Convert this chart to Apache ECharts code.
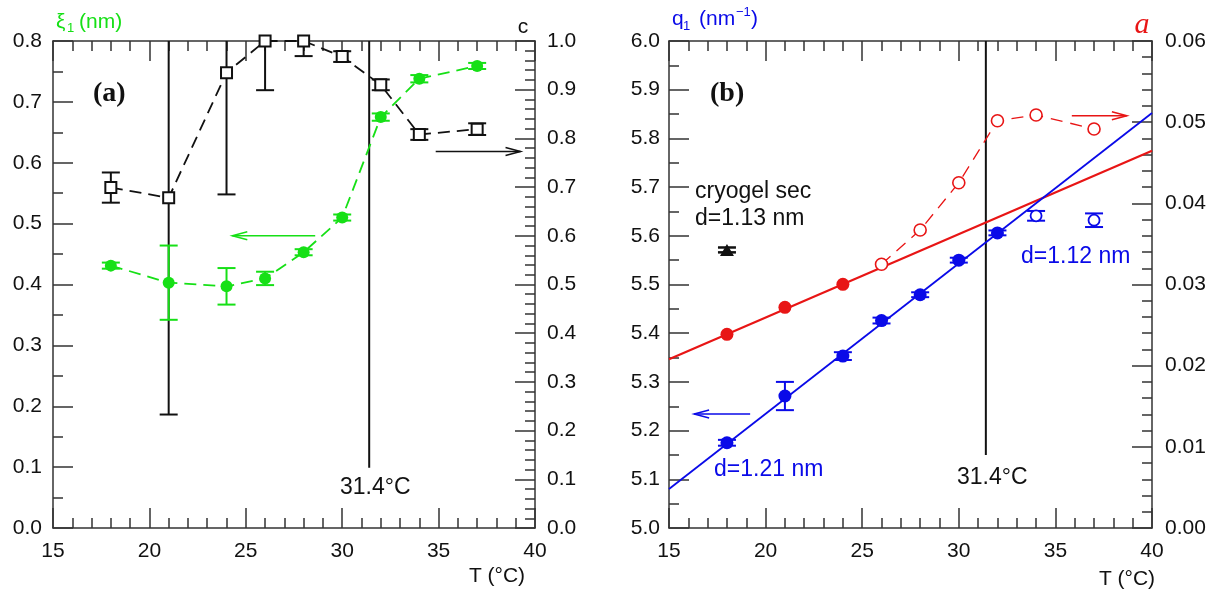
<!DOCTYPE html>
<html>
<head>
<meta charset="utf-8">
<script src="https://cdn.jsdelivr.net/npm/echarts@6/dist/echarts.min.js"></script>
<style>html,body{margin:0;padding:0;background:#fff}#c{width:1218px;height:596px}</style>
</head>
<body>
<div id="c"></div>
<script>
// ---------- DATA ----------
// panel (a)
const Ta = [18, 21, 24, 26, 28, 30, 32, 34, 37];
const xiVals = [0.431, 0.403, 0.397, 0.410, 0.453, 0.510, 0.675, 0.738, 0.759];
const xiErr  = [0.005, 0.061, 0.030, 0.011, 0.005, 0.005, 0.006, 0.006, 0.005];
const cVals  = [0.699, 0.678, 0.935, 1.000, 1.000, 0.968, 0.910, 0.808, 0.819];
const cErr   = [0.031, 0.445, 0.250, 0.101, 0.031, 0.011, 0.011, 0.011, 0.012];
// panel (b)
const TbFilled = [18, 21, 24, 26, 28, 30, 32];
const qFilled  = [5.175, 5.271, 5.353, 5.426, 5.479, 5.550, 5.606];
const qFilledErr = [0.006, 0.029, 0.008, 0.006, 0.005, 0.005, 0.005];
const TbOpen = [34, 37];
const qOpen  = [5.641, 5.632];
const qOpenErr = [0.010, 0.014];
const TaFilled = [18, 21, 24];
const aFilled  = [0.02386, 0.02719, 0.03002];
const TaOpen = [26, 28, 30, 32, 34, 37];
const aOpen  = [0.03249, 0.03671, 0.04254, 0.05018, 0.05088, 0.04916];
const fitT = [15, 40];
const qFit = [5.080, 5.852];
const aFit = [0.02078, 0.04649];
const cryoT = [18];
const cryoQ = [5.571];
const cryoErr = [0.005];
const Tc = 31.4;
// axis ranges / tick labels
const xTicks = [15, 20, 25, 30, 35, 40];
const xiTicks = [0.0, 0.1, 0.2, 0.3, 0.4, 0.5, 0.6, 0.7, 0.8];
const cTicks = [0.0, 0.1, 0.2, 0.3, 0.4, 0.5, 0.6, 0.7, 0.8, 0.9, 1.0];
const qTicks = [5.0, 5.1, 5.2, 5.3, 5.4, 5.5, 5.6, 5.7, 5.8, 5.9, 6.0];
const aTicks = [0.00, 0.01, 0.02, 0.03, 0.04, 0.05, 0.06];
// annotation arrows [x1, y1, x2, y2] in data units
const arrowXi = [28.6, 0.480, 24.3, 0.480];
const arrowC  = [34.85, 0.773, 39.25, 0.773];
const arrowQ  = [19.2, 5.234, 16.3, 5.234];
const arrowA  = [35.85, 0.0508, 38.7, 0.0508];
const tcLineA = [0.8, 0.099];
const tcLineB = [6.0, 5.15];

// ---------- STYLE ----------
const GREEN = '#16e016', BLUE = '#0a0ae8', RED = '#e81515', AX = '#333';
const SANS = '"Liberation Sans", Arial, sans-serif';
const SERIF = '"Liberation Serif", "Times New Roman", serif';

const zip = (xs, ys) => xs.map((x, i) => [x, ys[i]]);
const errData = (xs, ys, es) => xs.map((x, i) => [x, ys[i] - es[i], ys[i] + es[i]]);

function errBar(capW, color, lw) {
  return function (params, api) {
    const x = api.value(0), lo = api.value(1), hi = api.value(2);
    const pLo = api.coord([x, lo]), pHi = api.coord([x, hi]);
    const st = { stroke: color, lineWidth: lw };
    return { type: 'group', children: [
      { type: 'line', shape: { x1: pLo[0], y1: pLo[1], x2: pHi[0], y2: pHi[1] }, style: st },
      { type: 'line', shape: { x1: pLo[0] - capW / 2, y1: pLo[1], x2: pLo[0] + capW / 2, y2: pLo[1] }, style: st },
      { type: 'line', shape: { x1: pHi[0] - capW / 2, y1: pHi[1], x2: pHi[0] + capW / 2, y2: pHi[1] }, style: st }
    ]};
  };
}
function arrowRender(color, lw) {
  return function (params, api) {
    const p1 = api.coord([api.value(0), api.value(1)]);
    const p2 = api.coord([api.value(2), api.value(3)]);
    const dx = p2[0] - p1[0], dy = p2[1] - p1[1], L = Math.hypot(dx, dy);
    const ux = dx / L, uy = dy / L, nx = -uy, ny = ux, hl = 15, hw = 4;
    const st = { stroke: color, lineWidth: lw, fill: null };
    return { type: 'group', children: [
      { type: 'line', shape: { x1: p1[0], y1: p1[1], x2: p2[0], y2: p2[1] }, style: st },
      { type: 'polyline', shape: { points: [
        [p2[0] - ux * hl + nx * hw, p2[1] - uy * hl + ny * hw], [p2[0], p2[1]],
        [p2[0] - ux * hl - nx * hw, p2[1] - uy * hl - ny * hw]] }, style: st }
    ]};
  };
}

function xAx(grid, pos) {
  return {
    type: 'value', gridIndex: grid, position: pos,
    min: xTicks[0], max: xTicks[xTicks.length - 1], interval: xTicks[1] - xTicks[0],
    axisLine: { show: true, onZero: false, lineStyle: { color: AX, width: 1.5 } },
    axisTick: { show: true, inside: true, length: 20, lineStyle: { color: AX, width: 1.5 } },
    minorTick: { show: true, splitNumber: 5, length: 10, lineStyle: { color: AX, width: 1.5 } },
    splitLine: { show: false }, minorSplitLine: { show: false },
    axisLabel: { show: pos === 'bottom', fontSize: 21, fontFamily: SANS, color: '#111', margin: 13 }
  };
}
function yAx(grid, pos, ticks, minor, dec, margin) {
  return {
    type: 'value', gridIndex: grid, position: pos,
    min: ticks[0], max: ticks[ticks.length - 1], interval: +(ticks[1] - ticks[0]).toFixed(4),
    axisLine: { show: true, onZero: false, lineStyle: { color: AX, width: 1.5 } },
    axisTick: { show: true, inside: true, length: 20, lineStyle: { color: AX, width: 1.5 } },
    minorTick: { show: true, splitNumber: minor, length: 10, lineStyle: { color: AX, width: 1.5 } },
    splitLine: { show: false }, minorSplitLine: { show: false },
    axisLabel: { fontSize: 21, fontFamily: SANS, color: '#111', margin: margin,
      formatter: v => (+v).toFixed(dec) }
  };
}

function txt(x, y, s, font, color, align, valign) {
  return { type: 'text', x: x, y: y, z: 100,
    style: { text: s, font: font, fill: color || '#111',
      align: align || 'left', verticalAlign: valign || 'middle',
      textAlign: align || 'left', textVerticalAlign: valign || 'middle' } };
}
const F21 = '21px ' + SANS, F23 = '23px ' + SANS, F13 = '13px ' + SANS;

const chart = echarts.init(document.getElementById('c'), null, { renderer: 'canvas' });
chart.setOption({
  animation: false,
  backgroundColor: '#fff',
  grid: [
    { left: 53, top: 41, width: 482, height: 487 },
    { left: 669, top: 41, width: 483, height: 487 }
  ],
  xAxis: [xAx(0, 'bottom'), xAx(0, 'top'), xAx(1, 'bottom'), xAx(1, 'top')],
  yAxis: [
    yAx(0, 'left', xiTicks, 2, 1, 11),
    yAx(0, 'right', cTicks, 5, 1, 12),
    yAx(1, 'left', qTicks, 2, 1, 9),
    yAx(1, 'right', aTicks, 5, 2, 13)
  ],
  series: [
    // ---- panel (a) ----
    { type: 'line', xAxisIndex: 0, yAxisIndex: 0, data: [[Tc, tcLineA[0]], [Tc, tcLineA[1]]],
      symbol: 'none', lineStyle: { color: '#111', width: 2 }, z: 2 },
    { type: 'custom', xAxisIndex: 0, yAxisIndex: 1, clip: true, z: 3,
      renderItem: errBar(18, '#111', 2), encode: { x: 0, y: [1, 2] },
      data: errData(Ta, cVals, cErr) },
    { type: 'custom', xAxisIndex: 0, yAxisIndex: 0, clip: true, z: 3,
      renderItem: errBar(18, GREEN, 2), encode: { x: 0, y: [1, 2] },
      data: errData(Ta, xiVals, xiErr) },
    { type: 'line', xAxisIndex: 0, yAxisIndex: 0, data: zip(Ta, xiVals), z: 4,
      symbol: 'circle', symbolSize: 12, itemStyle: { color: GREEN },
      lineStyle: { color: GREEN, width: 1.8, type: [12, 7] } },
    { type: 'line', xAxisIndex: 0, yAxisIndex: 1, data: zip(Ta, cVals), z: 5, clip: false,
      symbol: 'rect', symbolSize: 11, itemStyle: { color: '#fff', borderColor: '#111', borderWidth: 2 },
      lineStyle: { color: '#111', width: 1.8, type: [12, 7] } },
    { type: 'custom', xAxisIndex: 0, yAxisIndex: 0, renderItem: arrowRender(GREEN, 1.5),
      encode: { x: [0, 2], y: [1, 3] }, data: [arrowXi], z: 6 },
    { type: 'custom', xAxisIndex: 0, yAxisIndex: 1, renderItem: arrowRender('#111', 1.5),
      encode: { x: [0, 2], y: [1, 3] }, data: [arrowC], z: 6 },
    // ---- panel (b) ----
    { type: 'line', xAxisIndex: 2, yAxisIndex: 2, data: [[Tc, tcLineB[0]], [Tc, tcLineB[1]]],
      symbol: 'none', lineStyle: { color: '#111', width: 2 }, z: 2 },
    { type: 'line', xAxisIndex: 2, yAxisIndex: 3, data: zip(fitT, aFit), symbol: 'none',
      lineStyle: { color: RED, width: 2.2 }, z: 3 },
    { type: 'line', xAxisIndex: 2, yAxisIndex: 2, data: zip(fitT, qFit), symbol: 'none',
      lineStyle: { color: BLUE, width: 1.8 }, z: 3 },
    { type: 'custom', xAxisIndex: 2, yAxisIndex: 2, clip: true, z: 4,
      renderItem: errBar(18, BLUE, 2), encode: { x: 0, y: [1, 2] },
      data: errData(TbFilled, qFilled, qFilledErr).concat(errData(TbOpen, qOpen, qOpenErr)) },
    { type: 'custom', xAxisIndex: 2, yAxisIndex: 2, clip: true, z: 4,
      renderItem: errBar(18, '#111', 2.5), encode: { x: 0, y: [1, 2] },
      data: errData(cryoT, cryoQ, cryoErr) },
    { type: 'scatter', xAxisIndex: 2, yAxisIndex: 2, data: zip(TbFilled, qFilled), z: 5,
      symbol: 'circle', symbolSize: 13, itemStyle: { color: BLUE, opacity: 1 } },
    { type: 'scatter', xAxisIndex: 2, yAxisIndex: 2, data: zip(TbOpen, qOpen), z: 5,
      symbol: 'circle', symbolSize: 11, itemStyle: { color: '#fff', borderColor: BLUE, borderWidth: 1.8, opacity: 1 } },
    { type: 'scatter', xAxisIndex: 2, yAxisIndex: 2, data: zip(cryoT, cryoQ), z: 5,
      symbol: 'triangle', symbolSize: [14, 12], itemStyle: { color: '#111', opacity: 1 } },
    { type: 'scatter', xAxisIndex: 2, yAxisIndex: 3, data: zip(TaFilled, aFilled), z: 5,
      symbol: 'circle', symbolSize: 13, itemStyle: { color: RED, opacity: 1 } },
    { type: 'line', xAxisIndex: 2, yAxisIndex: 3, data: zip(TaOpen, aOpen), z: 5,
      symbol: 'circle', symbolSize: 12, itemStyle: { color: '#fff', borderColor: RED, borderWidth: 1.6 },
      lineStyle: { color: RED, width: 1.3, type: [12, 8] } },
    { type: 'custom', xAxisIndex: 2, yAxisIndex: 2, renderItem: arrowRender(BLUE, 1.5),
      encode: { x: [0, 2], y: [1, 3] }, data: [arrowQ], z: 6 },
    { type: 'custom', xAxisIndex: 2, yAxisIndex: 3, renderItem: arrowRender(RED, 1.5),
      encode: { x: [0, 2], y: [1, 3] }, data: [arrowA], z: 6 }
  ],
  graphic: [
    txt(93, 94, '(a)', 'bold 28px ' + SERIF, '#111'),
    txt(710, 94, '(b)', 'bold 28px ' + SERIF, '#111'),
    // axis names panel (a)
    txt(56, 22, 'ξ', F21, GREEN),
    txt(67, 28, '1', F13, GREEN),
    txt(79, 22, '(nm)', F21, GREEN),
    txt(523, 27, 'c', F21, '#111', 'center'),
    txt(497, 576, 'T (°C)', F21, '#111', 'center'),
    txt(340, 488, '31.4°C', F23, '#111'),
    // axis names panel (b)
    txt(672, 19, 'q', F21, BLUE),
    txt(683, 26, '1', F13, BLUE),
    txt(699, 19, '(nm', F21, BLUE),
    txt(736, 12, '−1', F13, BLUE),
    txt(751, 19, ')', F21, BLUE),
    txt(1142, 25, 'a', 'italic 30px ' + SERIF, RED, 'center'),
    txt(1127, 579, 'T (°C)', F21, '#111', 'center'),
    txt(957, 478, '31.4°C', F23, '#111'),
    txt(695, 192, 'cryogel sec', F23, '#111'),
    txt(695, 219, 'd=1.13 nm', F23, '#111'),
    txt(714, 470, 'd=1.21 nm', F23, BLUE),
    txt(1021, 257, 'd=1.12 nm', F23, BLUE)
  ]
});
</script>
</body>
</html>
